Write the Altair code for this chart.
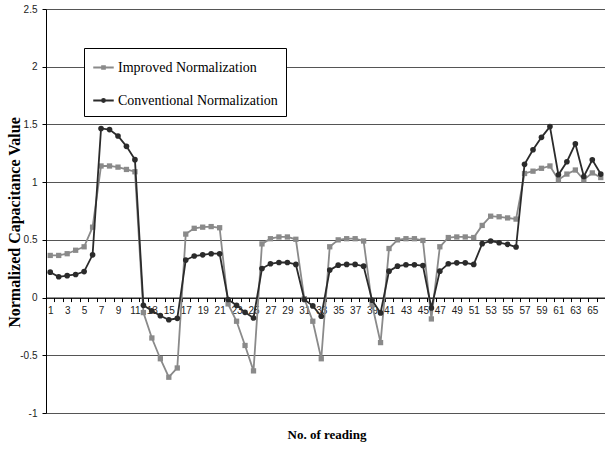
import altair as alt
import pandas as pd

# Reading numbers 1..66
readings = list(range(1, 67))

improved = [
    0.365, 0.365, 0.38, 0.41, 0.44, 0.61, 1.14, 1.14, 1.13, 1.11,
    1.09, -0.13, -0.35, -0.53, -0.69, -0.61, 0.55, 0.60, 0.61, 0.615,
    0.605, -0.055, -0.205, -0.415, -0.635, 0.465, 0.51, 0.525, 0.525, 0.505,
    -0.01, -0.205, -0.53, 0.44, 0.50, 0.51, 0.51, 0.49, -0.06, -0.39,
    0.425, 0.50, 0.51, 0.51, 0.495, -0.185, 0.44, 0.52, 0.525, 0.525,
    0.52, 0.625, 0.705, 0.70, 0.69, 0.68, 1.075, 1.095, 1.12, 1.14,
    1.02, 1.07, 1.105, 1.02, 1.08, 1.04,
]

conventional = [
    0.22, 0.18, 0.19, 0.20, 0.225, 0.37, 1.465, 1.455, 1.40, 1.31,
    1.195, -0.067, -0.115, -0.157, -0.192, -0.18, 0.325, 0.36, 0.37, 0.38,
    0.38, -0.017, -0.067, -0.128, -0.177, 0.252, 0.293, 0.304, 0.304, 0.287,
    -0.017, -0.072, -0.162, 0.238, 0.281, 0.287, 0.287, 0.272, -0.023, -0.133,
    0.229, 0.272, 0.284, 0.284, 0.278, -0.09, 0.229, 0.293, 0.301, 0.301,
    0.287, 0.467, 0.49, 0.475, 0.461, 0.438, 1.154, 1.281, 1.388, 1.481,
    1.064, 1.177, 1.333, 1.049, 1.194, 1.07,
]

series_names = ["Improved Normalization", "Conventional Normalization"]
series_colors = ["#8a8a8a", "#2b2b2b"]
y_ticks = [-1, -0.5, 0, 0.5, 1, 1.5, 2, 2.5]

df = pd.concat([
    pd.DataFrame({"reading": readings, "value": improved, "series": series_names[0]}),
    pd.DataFrame({"reading": readings, "value": conventional, "series": series_names[1]}),
])

W, H = 559, 404
y_min, y_max = -1, 2.5
zero_offset = -H * (0 - y_min) / (y_max - y_min)   # lift the x axis up to y = 0
half_band = W / len(readings) / 2

x_scale = alt.Scale(domain=[0.5, len(readings) + 0.5], nice=False, zero=False)
y_scale = alt.Scale(domain=[y_min, y_max], nice=False, zero=False)

x_enc = alt.X(
    "reading:Q", scale=x_scale,
    axis=alt.Axis(
        title="No. of reading", values=readings, offset=zero_offset,
        tickOffset=half_band, labelOffset=-half_band, tickSize=4,
        labelPadding=4, labelExpr="datum.value % 2 == 1 ? '' + datum.value : ''",
        labelFont="Liberation Sans", labelFontSize=10, labelColor="#222",
        labelAngle=0, labelOverlap=False, labelFlush=False, grid=False,
        domainColor="#000", tickColor="#000",
        titleFont="Liberation Serif", titleFontSize=13, titleFontWeight="bold",
        titleX=W / 2 + 1, titleY=137, titleBaseline="middle",
    ),
)
y_enc = alt.Y(
    "value:Q", scale=y_scale,
    axis=alt.Axis(
        title="Normalized Capacitance Value", values=y_ticks,
        labelExpr="'' + datum.value", tickSize=4, labelPadding=5,
        labelFont="Liberation Sans", labelFontSize=10, labelColor="#222",
        labelOverlap=False, labelFlush=False,
        grid=True, gridColor="#555", gridWidth=1,
        domainColor="#000", tickColor="#000",
        titleFont="Liberation Serif", titleFontSize=16, titleFontWeight="bold",
        titleAngle=-90, titleX=-32, titleY=213, titleAlign="center",
        titleBaseline="middle",
    ),
)


def series_layers(name, color, shape, size):
    base = alt.Chart(df).transform_filter(alt.datum.series == name)
    line = base.mark_line(strokeWidth=1.8, color=color).encode(x=x_enc, y=y_enc)
    pts = base.mark_point(shape=shape, filled=True, size=size, opacity=1,
                          color=color).encode(x=x_enc, y=y_enc)
    return [line, pts]


# Legend-only layer: each symbol is a short line with the series marker
legend_shapes = [
    "M-1,0H1M-0.13,-0.13H0.13V0.13H-0.13Z",
    "M-1,0H1M0.14,0A0.14,0.14 0 1,1 -0.14,0A0.14,0.14 0 1,1 0.14,0Z",
]
legend_def = alt.Legend(
    title=None, orient="none", legendX=38, legendY=39,
    strokeColor="#000", fillColor="#fff", padding=8,
    symbolSize=420, symbolStrokeWidth=2, symbolOpacity=1,
    labelFont="Liberation Serif", labelFontSize=14, labelColor="#000",
    labelOffset=3, rowPadding=14, labelLimit=400,
)
legend_layer = alt.Chart(df).mark_point(filled=True, opacity=0).encode(
    x=x_enc, y=y_enc,
    color=alt.Color("series:N", scale=alt.Scale(domain=series_names, range=series_colors),
                    legend=legend_def),
    stroke=alt.Stroke("series:N", scale=alt.Scale(domain=series_names, range=series_colors),
                      legend=legend_def),
    shape=alt.Shape("series:N", scale=alt.Scale(domain=series_names, range=legend_shapes),
                    legend=legend_def),
)

layers = (series_layers(series_names[0], series_colors[0], "square", 28)
          + series_layers(series_names[1], series_colors[1], "circle", 32)
          + [legend_layer])

chart = alt.layer(*layers).properties(
    width=W, height=H,
    autosize=alt.AutoSizeParams(type="none"),
    padding={"left": 46, "top": 9, "right": 0, "bottom": 36},
).configure_view(stroke=None).configure(background="white")

chart.save("out.html", embed_options={"renderer": "svg", "actions": False})
